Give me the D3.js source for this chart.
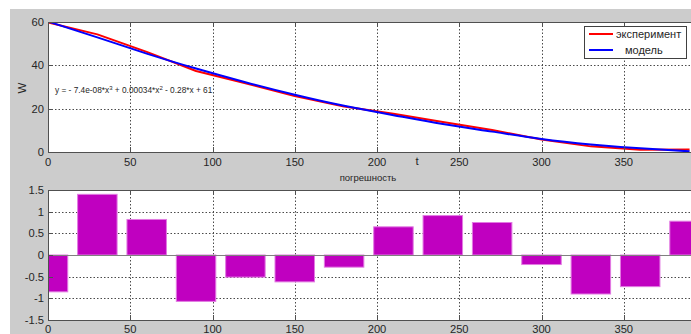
<!DOCTYPE html>
<html>
<head>
<meta charset="utf-8">
<script src="https://cdn.jsdelivr.net/npm/d3@7/dist/d3.min.js"></script>
<style>
  html, body { margin: 0; padding: 0; background: #ffffff; }
  svg { display: block; font-family: "Liberation Sans", Arial, Helvetica, sans-serif; }
</style>
</head>
<body>
<svg id="fig" width="691" height="334"></svg>
<script>
// Time samples (t) and measured / fitted W values
const times = [0, 30, 60, 90, 120, 150, 180, 210, 240, 270, 300, 330, 360, 390];
const experiment = [59.8, 54.3, 46.2, 37.4, 31.7, 25.8, 21.0, 17.65, 13.8, 10.15, 5.8, 2.6, 1.0, 1.1];
const model = [60.2, 52.9, 45.4, 38.5, 32.2, 26.4, 21.3, 17.0, 12.9, 9.4, 6.0, 3.5, 1.7, 0.3];
// Error between experiment and model at each sample
const residual = [-0.85, 1.40, 0.82, -1.07, -0.51, -0.62, -0.28, 0.65, 0.91, 0.75, -0.22, -0.90, -0.73, 0.78];

const xTicks = [0, 50, 100, 150, 200, 250, 300, 350];
const wTicks = [0, 20, 40, 60];
const errTicks = [-1.5, -1, -0.5, 0, 0.5, 1, 1.5];
const legendLabels = ["эксперимент", "модель"];
const fitLabel = ["y = - 7.4e-08*x", "3", " + 0.00034*x", "2", " - 0.28*x + 61"];

const svg = d3.select("#fig");

// figure background
svg.append("rect").attr("x", 10).attr("y", 9).attr("width", 700).attr("height", 340).attr("fill", "#cccccc");

const axColor = "#505050";
const gridColor = "#4a4a4a";
const textColor = "#262626";

function drawAxes(box, x, y, yTicks) {
  const g = svg.append("g");
  g.append("rect").attr("x", box.left).attr("y", box.top)
    .attr("width", box.right - box.left).attr("height", box.bottom - box.top)
    .attr("fill", "#ffffff");
  // dotted grid
  const grid = g.append("g").attr("stroke", gridColor).attr("stroke-width", 1)
    .attr("stroke-dasharray", "1.5,2");
  xTicks.forEach(v => {
    const px = Math.round(x(v)) + 0.5;
    grid.append("line").attr("x1", px).attr("x2", px).attr("y1", box.top).attr("y2", box.bottom);
  });
  yTicks.forEach(v => {
    const py = Math.round(y(v)) + 0.5;
    grid.append("line").attr("x1", box.left).attr("x2", box.right).attr("y1", py).attr("y2", py);
  });
  return g;
}

function drawFrame(box, x, y, yTicks, yFmt, tickY) {
  const g = svg.append("g");
  const fr = g.append("g").attr("stroke", axColor).attr("stroke-width", 1).attr("fill", "none");
  fr.append("rect").attr("x", box.left + 0.5).attr("y", box.top + 0.5)
    .attr("width", box.right - box.left).attr("height", box.bottom - box.top);
  const tl = 5;
  xTicks.forEach(v => {
    const px = Math.round(x(v)) + 0.5;
    fr.append("line").attr("x1", px).attr("x2", px).attr("y1", box.bottom).attr("y2", box.bottom - tl);
    fr.append("line").attr("x1", px).attr("x2", px).attr("y1", box.top).attr("y2", box.top + tl);
  });
  yTicks.forEach(v => {
    const py = Math.round(y(v)) + 0.5;
    fr.append("line").attr("x1", box.left).attr("x2", box.left + tl).attr("y1", py).attr("y2", py);
    fr.append("line").attr("x1", box.right).attr("x2", box.right - tl).attr("y1", py).attr("y2", py);
  });
  const lab = g.append("g").attr("fill", textColor).attr("font-size", "11.2px");
  xTicks.forEach(v => {
    lab.append("text").attr("x", x(v)).attr("y", tickY).attr("text-anchor", "middle").text(v);
  });
  yTicks.forEach(v => {
    lab.append("text").attr("x", box.left - 4).attr("y", y(v)).attr("dy", "0.35em")
      .attr("text-anchor", "end").text(yFmt(v));
  });
}

// ---------- top panel: W(t) ----------
const topBox = { left: 48, right: 706, top: 22, bottom: 152 };
const x1 = d3.scaleLinear().domain([0, 400]).range([topBox.left, topBox.right]);
const y1 = d3.scaleLinear().domain([0, 60]).range([topBox.bottom, topBox.top]);

drawAxes(topBox, x1, y1, wTicks);

svg.append("clipPath").attr("id", "clipTop").append("rect")
  .attr("x", topBox.left).attr("y", topBox.top)
  .attr("width", topBox.right - topBox.left).attr("height", topBox.bottom - topBox.top);

const plotTop = svg.append("g").attr("clip-path", "url(#clipTop)");

plotTop.append("path")
  .datum(times.map((t, i) => [t, experiment[i]]))
  .attr("fill", "none").attr("stroke", "#ff0000").attr("stroke-width", 2)
  .attr("stroke-linejoin", "round")
  .attr("d", d3.line().x(d => x1(d[0])).y(d => y1(d[1])));

plotTop.append("path")
  .datum(times.map((t, i) => [t, model[i]]))
  .attr("fill", "none").attr("stroke", "#0000ff").attr("stroke-width", 2)
  .attr("d", d3.line().curve(d3.curveNatural).x(d => x1(d[0])).y(d => y1(d[1])));

// fitted polynomial annotation
const eq = svg.append("text").attr("x", 55).attr("y", 93)
  .attr("font-size", "8.3px").attr("fill", textColor);
fitLabel.forEach((s, i) => {
  const sp = eq.append("tspan").text(s);
  if (i % 2 === 1) sp.attr("font-size", "6px").attr("dy", "-3.5");
  else if (i > 0) sp.attr("dy", "3.5");
});

drawFrame(topBox, x1, y1, wTicks, d => d, 166);

svg.append("text").attr("x", 417).attr("y", 165).attr("text-anchor", "middle")
  .attr("font-size", "11.5px").attr("fill", textColor).text("t");
svg.append("text").attr("transform", "translate(26,88) rotate(-90)")
  .attr("text-anchor", "middle").attr("font-size", "11.5px").attr("fill", textColor).text("W");

// legend
const leg = svg.append("g");
leg.append("rect").attr("x", 584.5).attr("y", 26.5).attr("width", 102).attr("height", 32)
  .attr("fill", "#ffffff").attr("stroke", "#404040").attr("stroke-width", 1);
const legColors = ["#ff0000", "#0000ff"];
const legTextX = [616, 625];
legendLabels.forEach((s, i) => {
  const yy = 34 + i * 16;
  leg.append("line").attr("x1", 589).attr("x2", 613).attr("y1", yy).attr("y2", yy)
    .attr("stroke", legColors[i]).attr("stroke-width", 2);
  leg.append("text").attr("x", legTextX[i]).attr("y", yy).attr("dy", "0.35em")
    .attr("font-size", "11px").attr("fill", textColor).text(s);
});

// ---------- bottom panel: error bars ----------
const botBox = { left: 48, right: 706, top: 190, bottom: 320 };
const x2 = d3.scaleLinear().domain([0, 400]).range([botBox.left, botBox.right]);
const y2 = d3.scaleLinear().domain([-1.5, 1.5]).range([botBox.bottom, botBox.top]);

drawAxes(botBox, x2, y2, errTicks);

svg.append("clipPath").attr("id", "clipBot").append("rect")
  .attr("x", botBox.left).attr("y", botBox.top)
  .attr("width", botBox.right - botBox.left).attr("height", botBox.bottom - botBox.top);

const plotBot = svg.append("g").attr("clip-path", "url(#clipBot)");
const barW = 24;
plotBot.selectAll("rect.bar").data(times).join("rect").attr("class", "bar")
  .attr("x", t => x2(t - barW / 2))
  .attr("width", x2(barW) - x2(0))
  .attr("y", (t, i) => y2(Math.max(0, residual[i])))
  .attr("height", (t, i) => Math.abs(y2(residual[i]) - y2(0)))
  .attr("fill", "#c000c0").attr("stroke", "#e27ae2").attr("stroke-width", 1);

plotBot.append("line").attr("x1", botBox.left).attr("x2", botBox.right)
  .attr("y1", Math.round(y2(0)) + 0.5).attr("y2", Math.round(y2(0)) + 0.5)
  .attr("stroke", "#808080").attr("stroke-width", 1.2);

drawFrame(botBox, x2, y2, errTicks, d => d, 333);

svg.append("text").attr("x", 368).attr("y", 181).attr("text-anchor", "middle")
  .attr("font-size", "9.5px").attr("fill", textColor).text("погрешность");
</script>
</body>
</html>
